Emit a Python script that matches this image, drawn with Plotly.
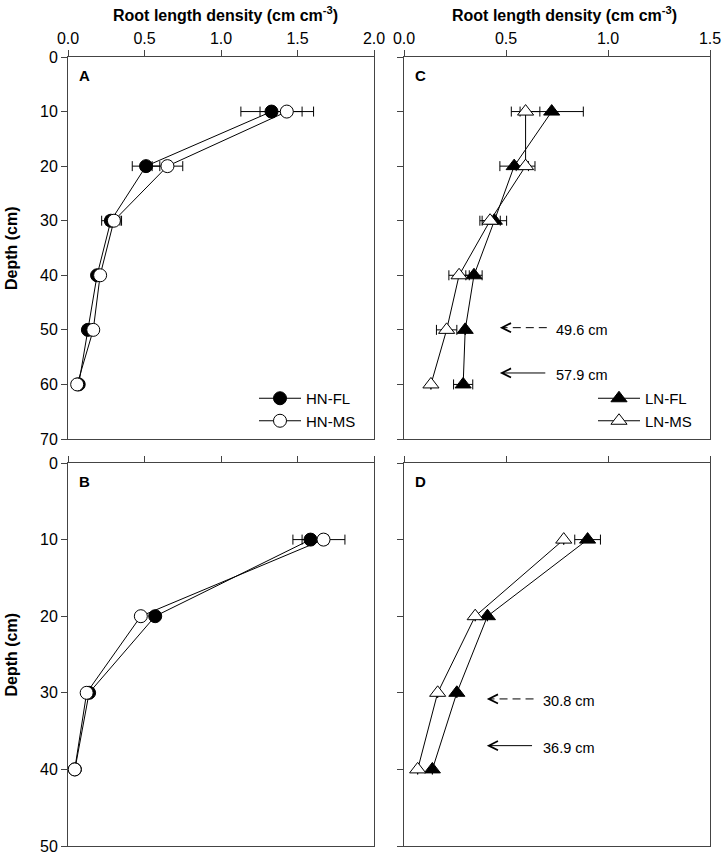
import plotly.graph_objects as go

# ---------------- data ----------------
depth_top = [10, 20, 30, 40, 50, 60]
depth_bot = [10, 20, 30, 40]

# Panel A (HN, top)
a_fl = [1.33, 0.51, 0.28, 0.19, 0.13, 0.07]
a_fl_err = [0.20, 0.09, 0.06, 0.0, 0.0, 0.0]
a_ms = [1.43, 0.65, 0.30, 0.21, 0.165, 0.06]
a_ms_err = [0.175, 0.10, 0.05, 0.0, 0.0, 0.0]

# Panel B (HN, bottom)
b_fl = [1.585, 0.57, 0.138, 0.045]
b_fl_err = [0.115, 0.0, 0.0, 0.0]
b_ms = [1.67, 0.476, 0.122, 0.044]
b_ms_err = [0.14, 0.0, 0.0, 0.0]

# Panel C (LN, top)
c_fl = [0.724, 0.54, 0.443, 0.343, 0.30, 0.29]
c_fl_err = [0.155, 0.07, 0.06, 0.04, 0.0, 0.047]
c_ms = [0.596, 0.596, 0.422, 0.27, 0.209, 0.132]
c_ms_err = [0.07, 0.046, 0.05, 0.05, 0.05, 0.0]

# Panel D (LN, bottom)
d_fl = [0.90, 0.409, 0.259, 0.139]
d_fl_err = [0.063, 0.0, 0.0, 0.0]
d_ms = [0.783, 0.349, 0.165, 0.067]
d_ms_err = [0.0, 0.0, 0.0, 0.0]

# Arrow depths (cm)
c_arrow_depths = [49.6, 57.9]
d_arrow_depths = [30.8, 36.9]
arrow_labels_c = ["49.6 cm", "57.9 cm"]
arrow_labels_d = ["30.8 cm", "36.9 cm"]

x_ticks_hn = [0.0, 0.5, 1.0, 1.5, 2.0]
x_ticks_ln = [0.0, 0.5, 1.0, 1.5]

# ---------------- layout constants ----------------
W, H = 722, 853
FONT = "Liberation Sans, Arial, sans-serif"
AXC = "#444444"

def px_x(p):
    return p / W

def px_y(p):
    return 1 - p / H

left_dom = [px_x(68), px_x(374)]
right_dom = [px_x(404), px_x(710)]
top_dom = [px_y(439), px_y(57)]
bot_dom = [px_y(846), px_y(463)]

fig = go.Figure()

def add_series(x, err, y, xa, ya, symbol, fill, name, show, legend, size):
    fig.add_trace(go.Scatter(
        x=x, y=y, xaxis=xa, yaxis=ya, name=name,
        mode="lines+markers",
        line=dict(color="black", width=1),
        marker=dict(symbol=symbol, size=size, color=fill,
                    line=dict(color="black", width=1)),
        error_x=dict(type="data", array=err, visible=True,
                     color="black", thickness=1, width=5),
        showlegend=show, legend=legend,
    ))

# Panel A
add_series(a_fl, a_fl_err, depth_top, "x", "y", "circle", "black", "HN-FL", True, "legend", 13)
add_series(a_ms, a_ms_err, depth_top, "x", "y", "circle", "white", "HN-MS", True, "legend", 13)
# Panel C
add_series(c_fl, c_fl_err, depth_top, "x2", "y2", "triangle-up", "black", "LN-FL", True, "legend2", 14)
add_series(c_ms, c_ms_err, depth_top, "x2", "y2", "triangle-up", "white", "LN-MS", True, "legend2", 14)
# Panel B
add_series(b_fl, b_fl_err, depth_bot, "x3", "y3", "circle", "black", "HN-FL", False, "legend", 13)
add_series(b_ms, b_ms_err, depth_bot, "x3", "y3", "circle", "white", "HN-MS", False, "legend", 13)
# Panel D
add_series(d_fl, d_fl_err, depth_bot, "x4", "y4", "triangle-up", "black", "LN-FL", False, "legend2", 14)
add_series(d_ms, d_ms_err, depth_bot, "x4", "y4", "triangle-up", "white", "LN-MS", False, "legend2", 14)

tickfont = dict(family=FONT, size=16, color="black")

def xax(dom, anchor, rng, ticks, labels):
    return dict(domain=dom, anchor=anchor, side="top", range=rng, automargin=False,
                tickvals=ticks, ticktext=[f"{t:.1f}" for t in ticks],
                showticklabels=labels, ticks="outside", ticklen=6,
                ticklabeloverflow="allow",
                tickcolor=AXC, showline=True, linecolor=AXC, linewidth=1,
                mirror=True, showgrid=False, zeroline=False, tickfont=tickfont)

def yax(dom, anchor, maxd, labels):
    return dict(domain=dom, anchor=anchor, range=[maxd, 0], automargin=False,
                tickvals=list(range(0, maxd + 1, 10)),
                showticklabels=labels, ticks="outside", ticklen=6,
                ticklabeloverflow="allow",
                tickcolor=AXC, showline=True, linecolor=AXC, linewidth=1,
                mirror=True, showgrid=False, zeroline=False, tickfont=tickfont)

fig.update_layout(
    width=W, height=H,
    margin=dict(l=0, r=0, t=0, b=0, autoexpand=False),
    paper_bgcolor="white", plot_bgcolor="white",
    font=dict(family=FONT, size=15, color="black"),
    xaxis=xax(left_dom, "y", [0, 2.0], x_ticks_hn, True),
    yaxis=yax(top_dom, "x", 70, True),
    xaxis2=xax(right_dom, "y2", [0, 1.5], x_ticks_ln, True),
    yaxis2=yax(top_dom, "x2", 70, False),
    xaxis3=xax(left_dom, "y3", [0, 2.0], x_ticks_hn, False),
    yaxis3=yax(bot_dom, "x3", 50, True),
    xaxis4=xax(right_dom, "y4", [0, 1.5], x_ticks_ln, False),
    yaxis4=yax(bot_dom, "x4", 50, False),
    legend=dict(x=px_x(254), y=px_y(382), xanchor="left", yanchor="top",
                bgcolor="rgba(0,0,0,0)", font=dict(family=FONT, size=15),
                tracegroupgap=0, itemwidth=42),
    legend2=dict(x=px_x(593), y=px_y(382), xanchor="left", yanchor="top",
                 bgcolor="rgba(0,0,0,0)", font=dict(family=FONT, size=15),
                 tracegroupgap=0, itemwidth=42),
    showlegend=True,
)

ann = []
# Column titles
title_txt = "<b>Root length density (cm cm<sup>-3</sup>)</b>"
ann.append(dict(text=title_txt, xref="x domain", yref="paper", x=0.516, y=px_y(14),
                xanchor="center", yanchor="middle", showarrow=False,
                font=dict(family=FONT, size=16)))
ann.append(dict(text=title_txt, xref="x2 domain", yref="paper", x=0.523, y=px_y(14),
                xanchor="center", yanchor="middle", showarrow=False,
                font=dict(family=FONT, size=16)))
# Depth titles
for dom in (top_dom, bot_dom):
    ann.append(dict(text="<b>Depth (cm)</b>", xref="paper", yref="paper",
                    x=px_x(11), y=(dom[0] + dom[1]) / 2, textangle=-90,
                    xanchor="center", yanchor="middle", showarrow=False,
                    font=dict(family=FONT, size=16)))
# Panel letters
for letter, xr, yr in (("A", "x", "y"), ("C", "x2", "y2"), ("B", "x3", "y3"), ("D", "x4", "y4")):
    ann.append(dict(text=f"<b>{letter}</b>", xref=f"{xr} domain", yref=f"{yr} domain",
                    x=0.03, y=0.951, xanchor="left", yanchor="middle", showarrow=False,
                    font=dict(family=FONT, size=15)))

shapes = []

def add_arrows(depths, labels, xr, yr, head, tail):
    for i, (d, lab) in enumerate(zip(depths, labels)):
        dashed = (i == 0)
        if dashed:
            shapes.append(dict(type="line", xref=xr, yref=yr, x0=tail, x1=head + 0.045,
                               y0=d, y1=d, line=dict(color="black", width=1, dash="8px,5px")))
            ann.append(dict(x=head, y=d, ax=head + 0.045, ay=d, xref=xr, yref=yr,
                            axref=xr, ayref=yr, text="", showarrow=True,
                            arrowhead=5, arrowsize=1.8, arrowwidth=1, arrowcolor="black"))
        else:
            ann.append(dict(x=head, y=d, ax=tail, ay=d, xref=xr, yref=yr,
                            axref=xr, ayref=yr, text="", showarrow=True,
                            arrowhead=5, arrowsize=1.8, arrowwidth=1, arrowcolor="black"))
        ann.append(dict(text=lab, x=tail, y=d, xref=xr, yref=yr, xanchor="left",
                        yanchor="middle", xshift=7, yshift=-2, showarrow=False,
                        font=dict(family=FONT, size=14.5)))

add_arrows(c_arrow_depths, arrow_labels_c, "x2", "y2", 0.47, 0.70)
add_arrows(d_arrow_depths, arrow_labels_d, "x4", "y4", 0.406, 0.635)

fig.update_layout(annotations=ann, shapes=shapes)

fig.write_html("out.html",
               config={"displayModeBar": False},
               post_script="document.body.style.margin='0';document.body.style.overflow='hidden';")
